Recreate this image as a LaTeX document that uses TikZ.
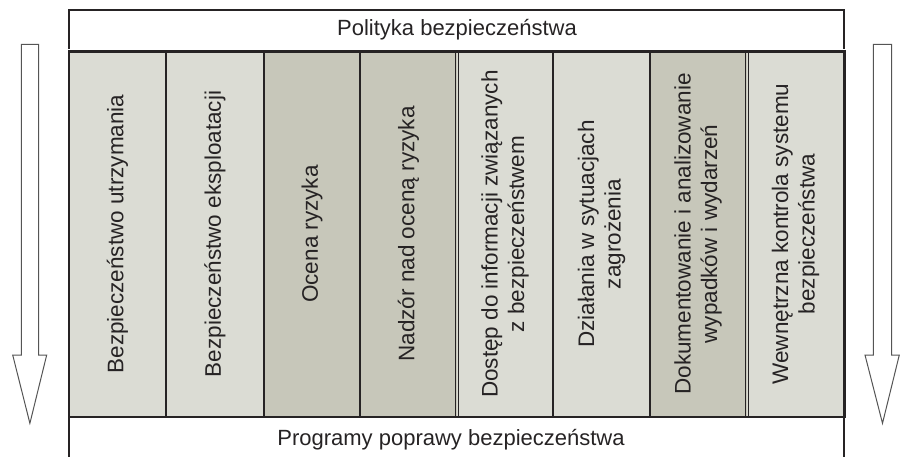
\documentclass[tikz,border=0pt]{standalone}
\usepackage{fontspec}
\setmainfont{Liberation Sans}
\definecolor{lightcol}{RGB}{219,220,212}
\definecolor{darkcol}{RGB}{199,199,186}
\definecolor{ink}{RGB}{38,35,36}
\definecolor{arrowline}{RGB}{85,85,85}
\tikzset{
  colbox/.style={rotate=90, draw=none, minimum width=366pt, minimum height=97pt,
    inner sep=0pt, align=center, text=ink, font=\fontsize{22.5}{26.5}\selectfont},
  band/.style={draw=none, text=ink, font=\fontsize{22}{26}\selectfont, inner sep=0pt},
  thickrule/.style={draw=ink, line width=2.6pt},
  thinrule/.style={draw=ink, line width=1.4pt},
  dblrule/.style={draw=ink, line width=1.1pt},
  bigarrow/.style={draw=arrowline, line width=1pt, fill=white, line join=miter},
}
\begin{document}
\begin{tikzpicture}[x=1pt, y=-1pt]
\useasboundingbox (0,0) rectangle (903,457);
% columns
\node[colbox, fill=lightcol] (c1) at (117.5,234) {Bezpieczeństwo utrzymania};
\node[colbox, fill=lightcol] (c2) at (215,234) {Bezpieczeństwo eksploatacji};
\node[colbox, fill=darkcol] (c3) at (312,234) {Ocena ryzyka};
\node[colbox, fill=darkcol] (c4) at (408.5,234) {Nadzór nad oceną ryzyka};
\node[colbox, fill=lightcol] (c5) at (505,234) {Dostęp do informacji związanych\\z bezpieczeństwem};
\node[colbox, fill=lightcol] (c6) at (601.5,234) {Działania w sytuacjach\\zagrożenia};
\node[colbox, fill=darkcol] (c7) at (698,234) {Dokumentowanie i analizowanie\\wypadków i wydarzeń};
\node[colbox, fill=lightcol] (c8) at (795.5,234) {Wewnętrzna kontrola systemu\\bezpieczeństwa};
% column borders
\draw[thinrule] (166,51) -- (166,417);
\draw[thinrule] (360,51) -- (360,417);
\draw[thinrule] (553,51) -- (553,417);
\draw[thickrule] (264,51) -- (264,417);
\draw[thickrule] (650,51) -- (650,417);
\draw[dblrule] (455.5,51) -- (455.5,417);
\draw[dblrule] (458.5,51) -- (458.5,417);
\draw[dblrule] (745.5,51) -- (745.5,417);
\draw[dblrule] (748.5,51) -- (748.5,417);
\draw[thickrule] (69,51.5) rectangle (844.5,417);
% top band
\node[band, minimum width=775pt, minimum height=39pt] (top) at (457,30) {Polityka bezpieczeństwa};
\draw[draw=ink, line width=2pt] (69,49.5) -- (69,10) -- (844,10) -- (844,49.5);
% bottom band
\node[band, anchor=base] (bottom) at (451,445) {Programy poprawy bezpieczeństwa};
\draw[draw=ink, line width=2pt] (69,417) -- (69,457);
\draw[draw=ink, line width=2pt] (844,417) -- (844,457);
% side arrows
\draw[bigarrow] (21.3,44.3) -- (38.7,44.3) -- (38.7,355) -- (46.7,355) -- (29.9,423.3)
  -- (12.7,355) -- (21.3,355) -- cycle;
\draw[bigarrow] (873.3,44.3) -- (891.5,44.3) -- (891.5,355) -- (899.3,355) -- (882.5,423.3)
  -- (865,355) -- (873.3,355) -- cycle;
\end{tikzpicture}
\end{document}
